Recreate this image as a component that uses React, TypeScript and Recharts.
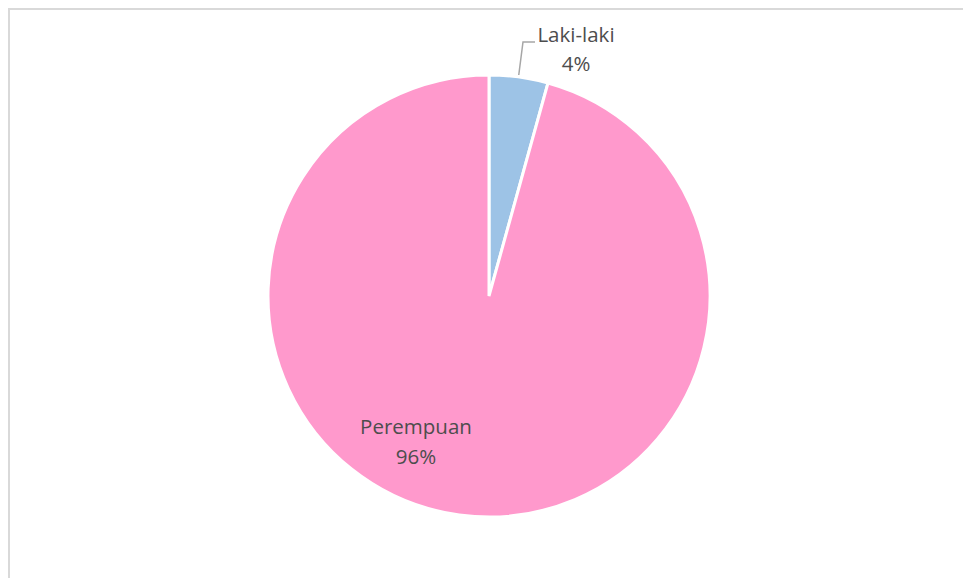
import React from 'react'
import { PieChart, Pie, Cell } from 'recharts'

// data
const categories = ['Laki-laki', 'Perempuan']
const values = [4.3, 95.7]
const percentLabels = ['4%', '96%']
const colors = ['#9DC3E6', '#FF99CC']

const data = categories.map((name, i) => ({ name, value: values[i] }))

const RADIAN = Math.PI / 180
const textStyle = { fontFamily: 'Open Sans', fontSize: 20.5, fill: '#4d4d4d' }

const renderLabel = (props: any) => {
  const { cx, cy, midAngle, outerRadius, index } = props
  if (index === 0) {
    // leader line from the arc up to the label
    const sx = cx + outerRadius * Math.cos(-midAngle * RADIAN)
    const sy = cy + outerRadius * Math.sin(-midAngle * RADIAN)
    const ex = cx + 34
    const ey = cy - 254
    const tx = cx + 87
    return (
      <g>
        <path d={`M${sx},${sy - 2}L${ex},${ey}L${ex + 12},${ey}`} stroke="#a6a6a6" strokeWidth={1.5} fill="none" />
        <text x={tx} y={cy - 262} textAnchor="middle" dominantBaseline="central" style={textStyle}>{categories[0]}</text>
        <text x={tx} y={cy - 233} textAnchor="middle" dominantBaseline="central" style={textStyle}>{percentLabels[0]}</text>
      </g>
    )
  }
  const tx = cx - 73
  return (
    <g>
      <text x={tx} y={cy + 130} textAnchor="middle" dominantBaseline="central" style={textStyle}>{categories[1]}</text>
      <text x={tx} y={cy + 160} textAnchor="middle" dominantBaseline="central" style={textStyle}>{percentLabels[1]}</text>
    </g>
  )
}

const App = () => {
  return (
    <div style={{ position: 'fixed', left: 0, top: 0, width: 963, height: 578, overflow: 'hidden', background: '#fff' }}>
      <div style={{ position: 'absolute', left: 8, top: 8, width: 1000, height: 650, border: '2px solid #d9d9d9' }} />
      <div style={{ position: 'absolute', left: 0, top: 0 }}>
        <PieChart width={963} height={578}>
          <Pie
            data={data}
            dataKey="value"
            nameKey="name"
            cx={484}
            cy={291}
            outerRadius={221}
            startAngle={90}
            endAngle={-270}
            stroke="#ffffff"
            strokeWidth={3}
            label={renderLabel}
            labelLine={false}
            isAnimationActive={false}
          >
            {data.map((d, i) => (
              <Cell key={d.name} fill={colors[i]} />
            ))}
          </Pie>
        </PieChart>
      </div>
    </div>
  )
}

export default App
